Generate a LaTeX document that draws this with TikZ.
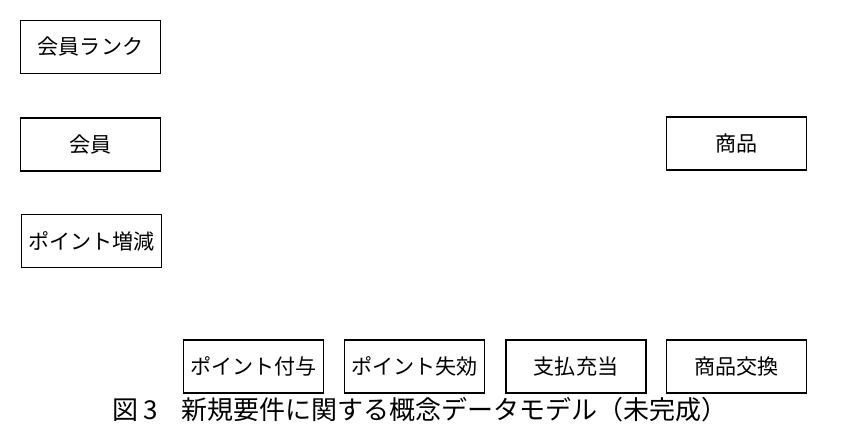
\documentclass[tikz,border=0pt]{standalone}
\usepackage{fontspec}
\setmainfont{Noto Sans CJK JP}
\tikzset{
  entity/.style={draw,line width=1pt,minimum width=2.8cm,minimum height=1.06cm,
    inner sep=0pt,font=\fontsize{12}{14}\selectfont},
}
\begin{document}
\begin{tikzpicture}
      \useasboundingbox (0,0) rectangle (16.84,-8.52);
      \node[entity] (rank) at (1.81,-0.94) {会員ランク};
      \node[entity] (member) at (1.81,-2.89) {会員};
      \node[entity] (pointchg) at (1.83,-4.82) {ポイント増減};
      \node[entity] (item) at (14.73,-2.87) {商品};
      \node[entity] (grant) at (5.07,-7.33) {ポイント付与};
      \node[entity] (expire) at (8.29,-7.33) {ポイント失効};
      \node[entity] (payment) at (11.52,-7.33) {支払充当};
      \node[entity] (exchange) at (14.73,-7.33) {商品交換};
      \node[font=\fontsize{14.8}{17}\selectfont] (caption) at (8.4,-8.2)
        {図 3\hspace{0.9em}新規要件に関する概念データモデル（未完成）};
   \end{tikzpicture}
\end{document}
